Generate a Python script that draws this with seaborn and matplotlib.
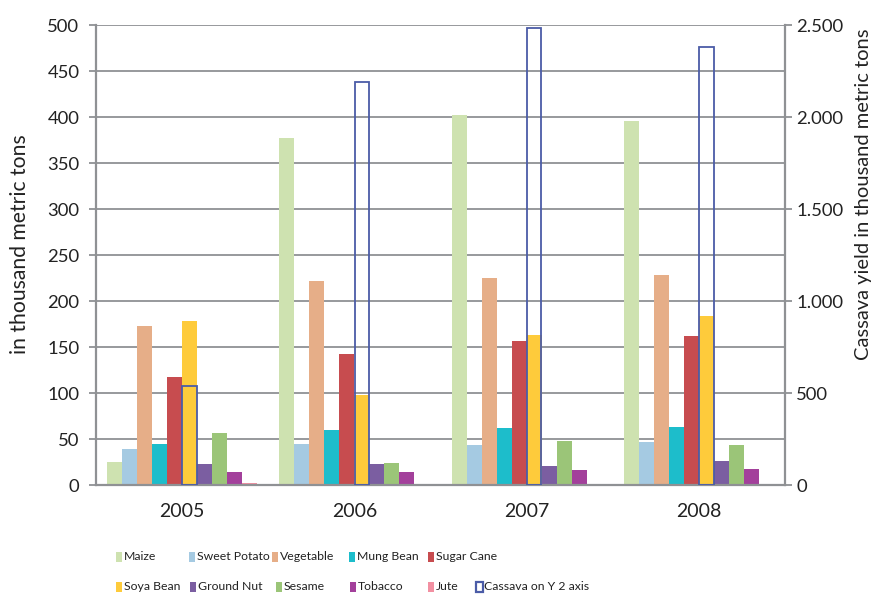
import matplotlib
matplotlib.use("Agg")
import numpy as np
import pandas as pd
import seaborn as sns
import matplotlib.pyplot as plt
from matplotlib.ticker import MultipleLocator, FixedLocator, FuncFormatter, NullFormatter
from matplotlib.patches import Rectangle
from matplotlib import font_manager

# ---- data (thousand metric tons) ----
years = ["2005", "2006", "2007", "2008"]
maize = [25, 377, 402, 396]
sweet_potato = [39, 45, 43, 47]
vegetable = [173, 222, 225, 228]
mung_bean = [45, 60, 62, 63]
sugar_cane = [117, 142, 157, 162]
soya_bean = [178, 98, 163, 184]
ground_nut = [23, 23, 21, 26]
sesame = [57, 24, 48, 43]
tobacco = [14, 14, 16, 17]
jute = [2, 1.5, 1, 1]
cassava = [540, 2190, 2485, 2382]   # secondary axis

crops = ["Maize", "Sweet Potato", "Vegetable", "Mung Bean", "Sugar Cane",
         "Soya Bean", "Ground Nut", "Sesame", "Tobacco", "Jute"]
series = [maize, sweet_potato, vegetable, mung_bean, sugar_cane,
          soya_bean, ground_nut, sesame, tobacco, jute]
colors = ["#cee2b0", "#a5cae2", "#e6ae88", "#1dbdcb", "#c74c4f",
          "#fecb3b", "#7b5ea1", "#9bc578", "#a3409b", "#f290a2"]
cassava_label = "Cassava on Y 2 axis"
cassava_color = "#4b5ca7"

df = pd.DataFrame({
    "Year": np.tile(years, len(crops)),
    "Crop": np.repeat(crops, len(years)),
    "Value": np.concatenate([np.asarray(s, float) for s in series]),
})

sns.set_style("white")
names = {f.name for f in font_manager.fontManager.ttflist}
base_font = "Lato" if "Lato" in names else "DejaVu Sans"
plt.rcParams["font.family"] = [base_font, "DejaVu Sans"]

GRAY = "#8f9194"
TXT = "#222222"

W, H = 882, 594
fig = plt.figure(figsize=(W / 100, H / 100), dpi=100)
fig.patch.set_facecolor("white")
ax = fig.add_axes([96 / W, 1 - 485 / H, (785 - 96) / W, 460 / H])

group_width = 0.871
sns.barplot(data=df, x="Year", y="Value", hue="Crop", order=years,
            hue_order=crops, palette=colors, width=group_width, gap=0,
            dodge=True, saturation=1, errorbar=None, legend=False,
            linewidth=0, ax=ax)

# Cassava on the secondary axis, sharing the Soya Bean slot
bar_w = group_width / len(crops)
slot = crops.index("Soya Bean")
offset = -group_width / 2 + bar_w * (slot + 0.5)
ax2 = ax.twinx()
ax2.bar(np.arange(len(years)) + offset, cassava, width=bar_w - 0.004,
        fill=False, edgecolor=cassava_color, linewidth=1.3, zorder=3)

ax.set_xlim(-0.5, len(years) - 0.5)
ax.set_ylim(0, 500)
ax2.set_ylim(0, 2500)

ax.yaxis.set_major_locator(MultipleLocator(50))
ax2.yaxis.set_major_locator(MultipleLocator(500))
ax2.yaxis.set_major_formatter(FuncFormatter(lambda v, p: f"{v:,.0f}".replace(",", ".")))

ax.grid(axis="y", color=GRAY, linewidth=1.3)
ax.grid(axis="x", visible=False)
ax.set_axisbelow(True)

ax.set_xticks(range(len(years)))
ax.set_xticklabels(years)
ax.xaxis.set_minor_locator(FixedLocator(np.arange(-0.5, len(years), 1.0)))
ax.xaxis.set_minor_formatter(NullFormatter())
ax.tick_params(axis="x", which="major", length=0, pad=13, labelsize=14, labelcolor=TXT)
ax.tick_params(axis="x", which="minor", length=6, width=1.3, color=GRAY, direction="out")
ax.tick_params(axis="y", length=5, width=1.3, color=GRAY, pad=7, labelsize=13.3, labelcolor=TXT)
ax2.tick_params(axis="y", length=5, width=1.3, color=GRAY, pad=3, labelsize=13.3, labelcolor=TXT)

for a in (ax, ax2):
    a.spines["top"].set_visible(False)
    for s in ("left", "right", "bottom"):
        a.spines[s].set_color(GRAY)
        a.spines[s].set_linewidth(1.6)
ax.spines["right"].set_visible(False)
ax2.spines["left"].set_visible(False)
ax2.spines["bottom"].set_visible(False)

ax.set_xlabel("")
ax.set_ylabel("")

# axis titles placed as figure text so their span can be sized in pixels
left_title = fig.text(20 / W, 1 - 244 / H, "in thousand metric tons",
                      rotation=90, ha="center", va="center", fontsize=12, color=TXT)
right_title = fig.text(864 / W, 1 - 194 / H, "Cassava yield in thousand metric tons",
                       rotation=90, ha="center", va="center", fontsize=12, color=TXT)

# ---- legend: two rows laid out below the plot ----
legend_rows = [
    [("Maize", 116), ("Sweet Potato", 189), ("Vegetable", 272),
     ("Mung Bean", 349), ("Sugar Cane", 428)],
    [("Soya Bean", 116), ("Ground Nut", 190), ("Sesame", 276),
     ("Tobacco", 350), ("Jute", 428), (cassava_label, 476)],
]
row_y = [557, 587]
color_of = dict(zip(crops, colors))
legend_texts = {}
for row, yc in zip(legend_rows, row_y):
    for label, xs in row:
        if label == cassava_label:
            rect = Rectangle((xs / W, 1 - (yc + 5) / H), 7 / W, 10 / H,
                             transform=fig.transFigure, facecolor="none",
                             edgecolor=cassava_color, linewidth=1.6)
        else:
            rect = Rectangle((xs / W, 1 - (yc + 5) / H), 6 / W, 10 / H,
                             transform=fig.transFigure, facecolor=color_of[label],
                             edgecolor="none")
        fig.patches.append(rect)
        legend_texts[label] = fig.text((xs + 8) / W, 1 - yc / H, label, fontsize=10,
                                       color=TXT, ha="left", va="center")

# size texts to their pixel spans
fig.canvas.draw()
renderer = fig.canvas.get_renderer()


def fit(text, target, vertical=False):
    bb = text.get_window_extent(renderer)
    span = bb.height if vertical else bb.width
    text.set_fontsize(text.get_fontsize() * target / span)


fit(left_title, 218, vertical=True)
fit(right_title, 330, vertical=True)
fit(legend_texts["Sweet Potato"], 73)
leg_size = legend_texts["Sweet Potato"].get_fontsize()
for t in legend_texts.values():
    t.set_fontsize(leg_size)

fig.savefig("out.png", dpi=100, facecolor="white")
